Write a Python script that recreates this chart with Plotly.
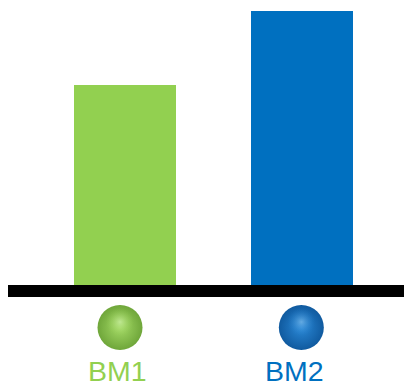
import plotly.graph_objects as go

categories = ["BM1", "BM2"]
values = [73, 100]
bar_colors = ["#92D050", "#0070C0"]
sphere_centers = ["#A4DA66", "#2A88D6"]
sphere_edges = ["#6FA63A", "#105A9F"]
highlight_centers = ["rgba(205,240,165,0.75)", "rgba(135,195,240,0.65)"]
highlight_edges = ["rgba(150,208,83,0)", "rgba(33,128,208,0)"]
label_colors = ["#92D050", "#0070C0"]

W, H = 405, 383
m_l, m_r, m_t, m_b = 8, 1, 11, 0
below_px = 98  # pixels of the sphere/label band under the bars
split = below_px / (H - m_t - m_b)
y_max = 100

x_pos = [0, 1]
sphere_x = [-5 / 177, 1 - 0.7 / 177]

fig = go.Figure()
fig.add_trace(go.Bar(
    x=x_pos, y=values, marker=dict(color=bar_colors, line=dict(width=0)),
    width=0.576, hoverinfo="skip", xaxis="x", yaxis="y",
))
# radial gradient: marker.color = rim, gradient.color = centre
fig.add_trace(go.Scatter(
    x=sphere_x, y=[-42.5, -42.5], mode="markers",
    marker=dict(size=45, color=sphere_edges,
                gradient=dict(type="radial", color=sphere_centers),
                line=dict(width=0)),
    xaxis="x", yaxis="y2", hoverinfo="skip",
))
fig.add_trace(go.Scatter(
    x=sphere_x, y=[-37, -37], mode="markers",
    marker=dict(size=28, color=highlight_edges,
                gradient=dict(type="radial", color=highlight_centers),
                line=dict(width=0)),
    xaxis="x", yaxis="y2", hoverinfo="skip",
))

for i, c in enumerate(categories):
    fig.add_annotation(
        x=x_pos[i], y=-85.5, xref="x", yref="y2", text=c, showarrow=False,
        xshift=-8, yanchor="middle",
        font=dict(family="Liberation Sans, Arial", size=28.5, color=label_colors[i]),
    )

fig.update_layout(
    width=W, height=H, margin=dict(l=m_l, r=m_r, t=m_t, b=m_b),
    paper_bgcolor="white", plot_bgcolor="white", showlegend=False,
    bargap=0,
    xaxis=dict(range=[-0.661, 1.576], showticklabels=False, showgrid=False,
               zeroline=False, showline=True, linewidth=12, linecolor="black",
               ticks="", anchor="y"),
    yaxis=dict(range=[0, y_max], domain=[split, 1], visible=False),
    yaxis2=dict(range=[-below_px, 0], domain=[0, split], visible=False, anchor="x"),
)
fig.write_html("out.html")
